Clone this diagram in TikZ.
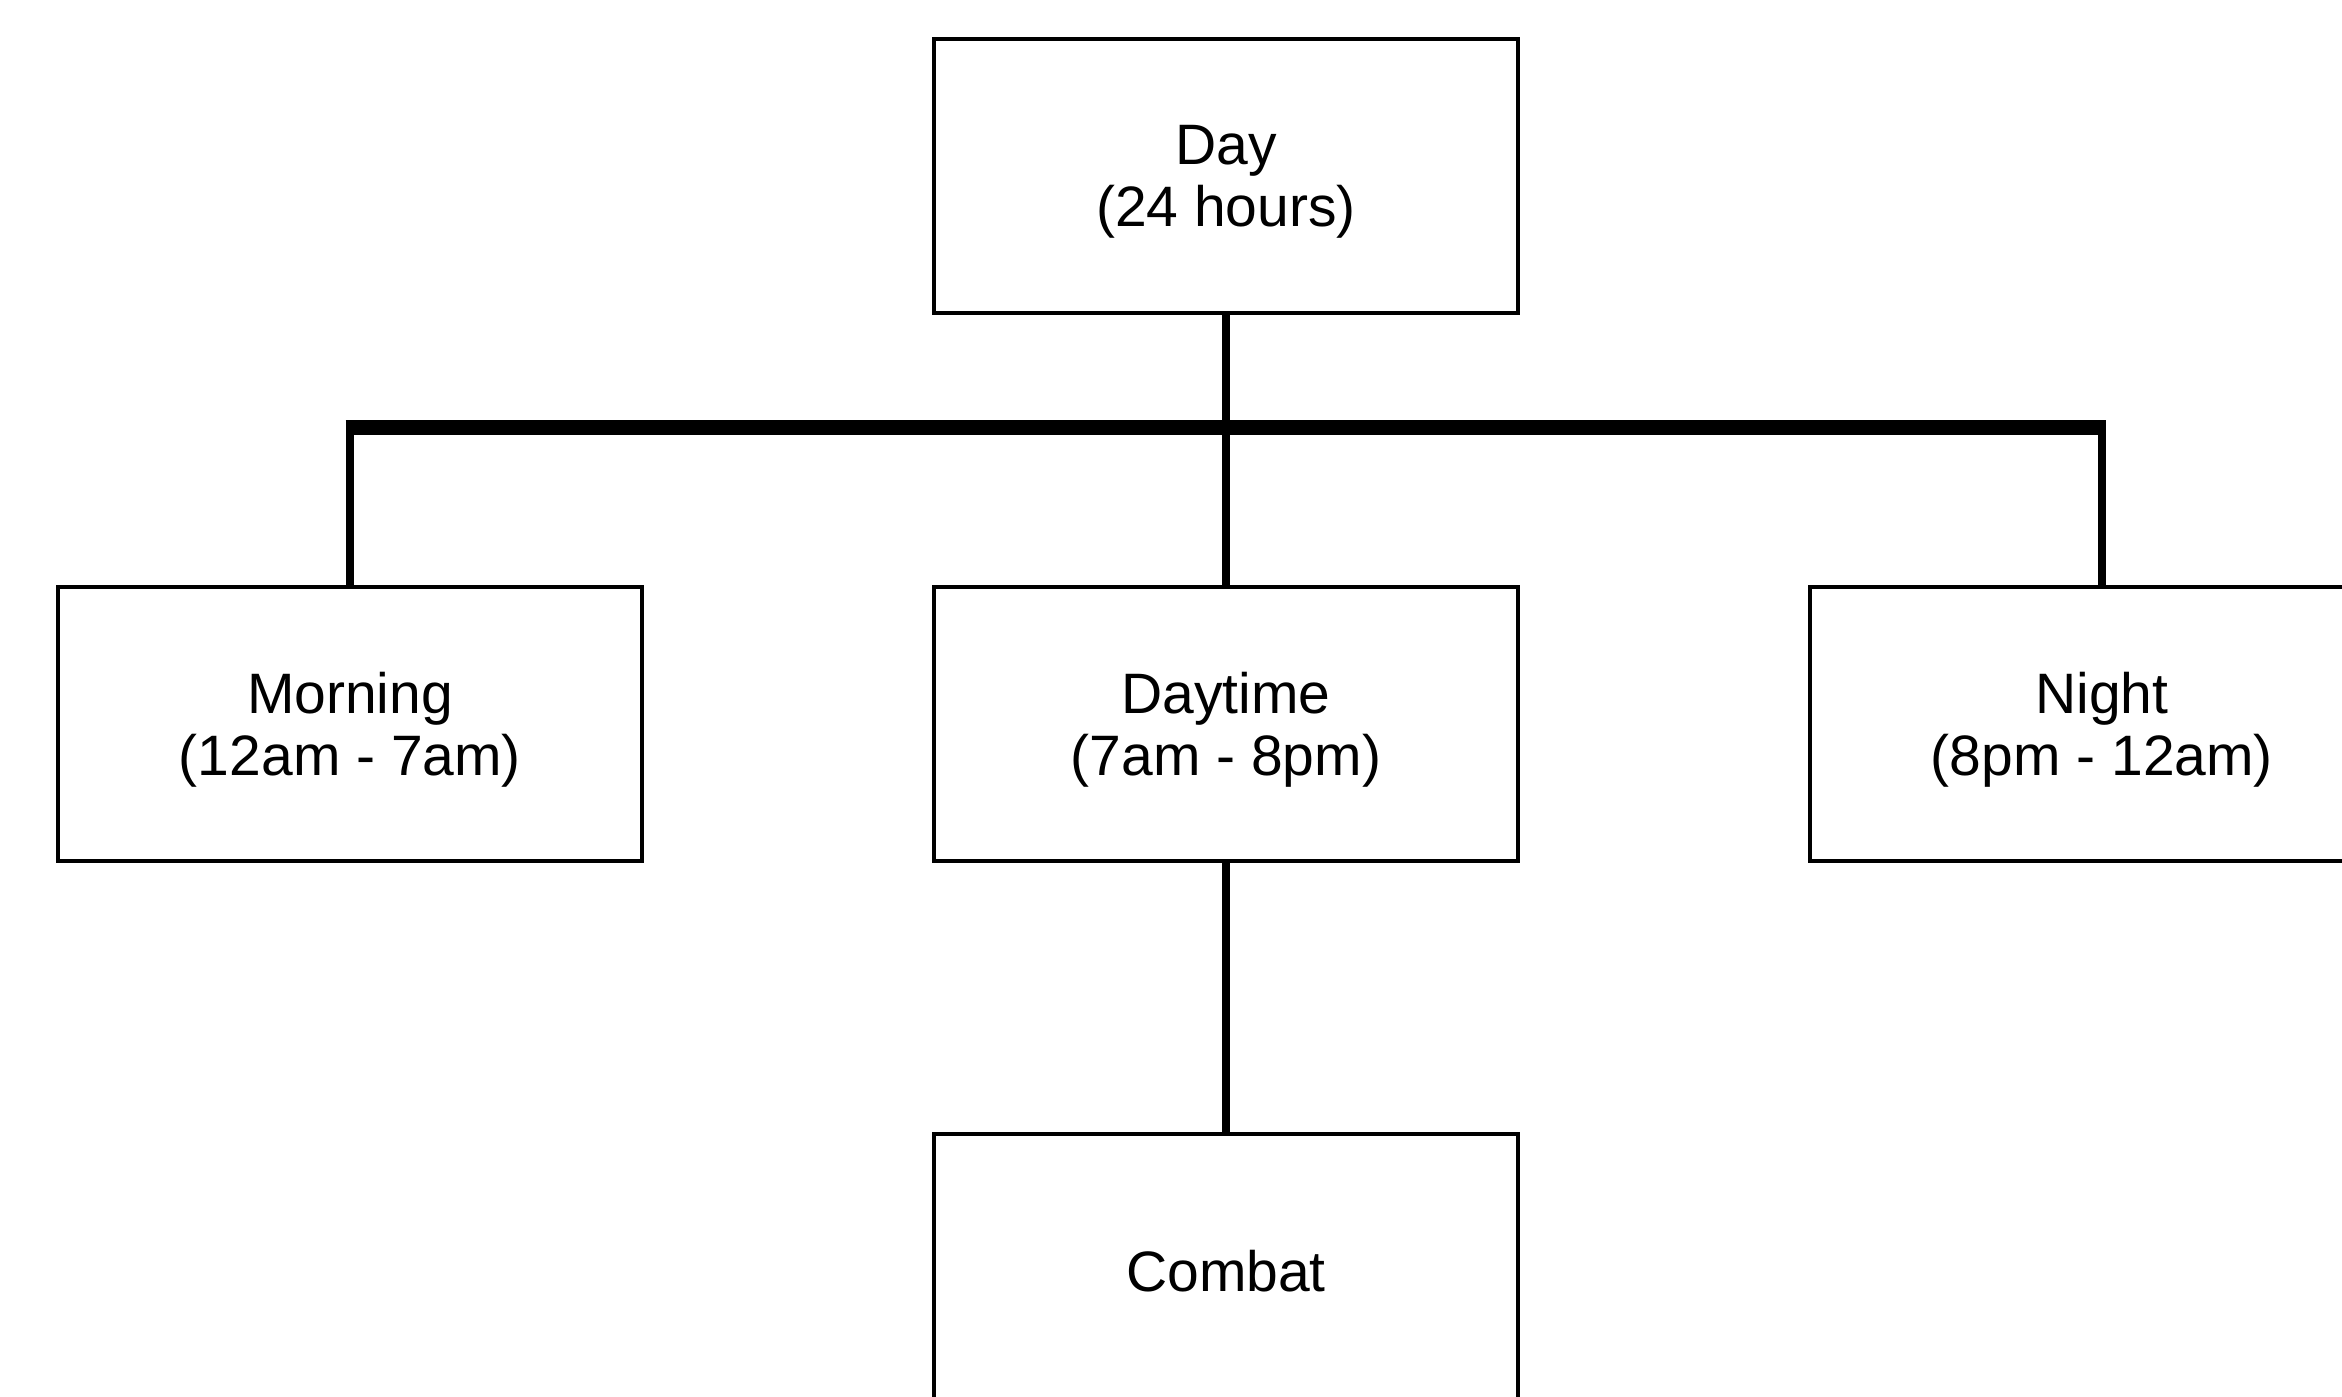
\documentclass[tikz,border=0pt]{standalone}
\usepackage{fontspec}
\setmainfont{Liberation Sans}
\begin{document}
\begin{tikzpicture}[x=0.5pt,y=-0.5pt,
  box/.style={draw,line width=2pt,rectangle,minimum width=292pt,minimum height=137pt,inner sep=0pt,align=center,font=\fontsize{28.5}{31}\selectfont,text depth=0pt},
  conn/.style={line width=4.3pt},
  barline/.style={line width=7.5pt,line cap=butt}]
\useasboundingbox (0,0) rectangle (2342,1397);
\clip (0,0) rectangle (2342,1397);
\node[box] (day) at (1226,176) {Day\\(24 hours)};
\node[box] (morning) at (350,724) {Morning\\(12am - 7am)};
\node[box] (daytime) at (1226,724) {Daytime\\(7am - 8pm)};
\node[box] (night) at (2102,724) {Night\\(8pm - 12am)};
\node[box] (combat) at (1226,1271) {Combat};
\coordinate (barL) at (350,427);
\coordinate (barR) at (2102,427);
\draw[barline] ([xshift=-2.15pt]barL) -- ([xshift=2.15pt]barR);
\draw[conn] (day.south) -- (daytime.north);
\draw[conn] (barL) -- (morning.north);
\draw[conn] (barR) -- (night.north);
\draw[conn] (daytime.south) -- (combat.north);
\end{tikzpicture}
\end{document}
